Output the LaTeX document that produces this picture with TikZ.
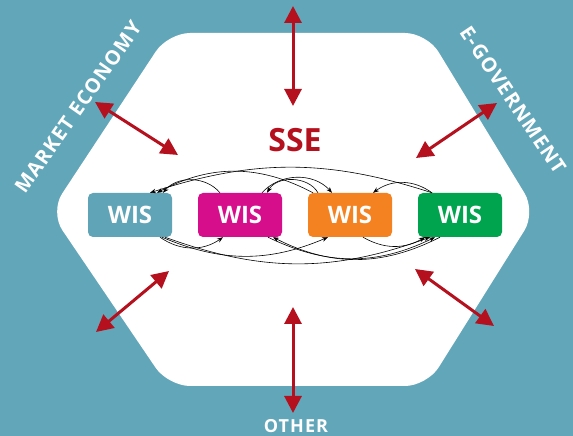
\documentclass[tikz,border=0pt]{standalone}
\usepackage{fontspec}
\setmainfont{Open Sans}
\newfontfamily\spacedfont[LetterSpace=6.0]{Open Sans}
\usepackage{tikz}
\usetikzlibrary{arrows.meta}
\usetikzlibrary{shapes,positioning,calc}
\definecolor{seateal}{RGB}{98,166,185}
\definecolor{wisteal}{RGB}{96,164,183}
\definecolor{wismagenta}{RGB}{214,14,140}
\definecolor{wisorange}{RGB}{245,130,32}
\definecolor{wisgreen}{RGB}{0,163,78}
\definecolor{ssered}{RGB}{180,16,30}
\tikzstyle{wisbox} = [rectangle, rounded corners=5pt, minimum width=84pt, minimum height=44pt, text=white, font=\fontsize{24}{24}\selectfont\bfseries, inner sep=0pt]
\tikzstyle{link} = [black, line width=0.6pt, -{Stealth[length=6pt,width=4.5pt]}]
\tikzstyle{relation} = [ssered, line width=3pt, {Triangle[length=17pt,width=17pt]}-{Triangle[length=17pt,width=17pt]}]
\tikzstyle{area} = [text=white, font=\spacedfont\fontsize{20}{20}\selectfont\bfseries, inner sep=0pt]

\begin{document}
\begin{tikzpicture}[x=1pt,y=1pt]
				\fill[seateal] (0,0) rectangle (573,436);
				\fill[white, rounded corners=22pt] (168,403) -- (427,403) -- (536,224) -- (427,50) -- (168,50) -- (50,224) -- cycle;
				
				\node[font=\fontsize{32}{32}\selectfont\bfseries, text=ssered, inner sep=0pt] (sse) at (295,296) {SSE};
				
				\node[wisbox, fill=wisteal] (t) at (130,221) {WIS};
				\node[wisbox, fill=wismagenta] (m) at (240,221) {WIS};
				\node[wisbox, fill=wisorange] (o) at (350,221) {WIS};
				\node[wisbox, fill=wisgreen] (g) at (460,221) {WIS};
				
				% links above the boxes
				\draw[link] ([xshift=-20pt]m.north) to[bend right=50] ([xshift=33pt]t.north);
				\draw[link] ([xshift=-37pt]o.north) to[bend right=28] ([xshift=27pt]t.north);
				\draw[link] ([xshift=-28pt]g.north) to[bend right=18] ([xshift=20pt]t.north);
				\draw[link] ([xshift=-32pt]o.north) to[bend right=60] ([xshift=27pt]m.north);
				\draw[link] ([xshift=22pt]m.north) to[bend left=48] ([xshift=-18pt]o.north);
				\draw[link] ([xshift=-28pt]g.north) to[bend right=36] ([xshift=23pt]o.north);
				
				% links below the boxes
				\draw[link] ([xshift=30pt]t.south) to[bend right=35] ([xshift=-17pt]m.south);
				\draw[link] ([xshift=32pt]t.south) to[bend right=23] ([xshift=-22pt]o.south);
				\draw[link] ([xshift=35pt]t.south) to[bend right=20] ([xshift=-30pt]g.south);
				\draw[link] ([xshift=28pt]m.south) to[bend right=26] ([xshift=-25pt]g.south);
				\draw[link] ([xshift=13pt]o.south) to[bend right=30] ([xshift=-35pt]g.south);
				\draw[link] ([xshift=-20pt]g.south) to[bend left=27] ([xshift=33pt]m.south);
				
				% relations with the outside
				\coordinate (topout) at (293,430);
				\coordinate (topin) at (293,330);
				\coordinate (botout) at (293,23);
				\coordinate (botin) at (293,129);
				\coordinate (tlout) at (95,334);
				\coordinate (tlin) at (178,281);
				\coordinate (trout) at (497,333);
				\coordinate (trin) at (416,278);
				\coordinate (blout) at (96,104);
				\coordinate (blin) at (169,165);
				\coordinate (brout) at (494,110);
				\coordinate (brin) at (415,167);
				\draw[relation] (topout) -- (topin);
				\draw[relation] (botin) -- (botout);
				\draw[relation] (tlout) -- (tlin);
				\draw[relation] (trout) -- (trin);
				\draw[relation] (blout) -- (blin);
				\draw[relation] (brout) -- (brin);
				
				\node[area, rotate=55] (market) at (78,329) {MARKET ECONOMY};
				\node[area, rotate=-56] (egov) at (513,336) {E-GOVERNMENT};
				\node[area, font=\spacedfont\fontsize{18}{18}\selectfont\bfseries] (other) at (296,10) {OTHER};
			\end{tikzpicture}
\end{document}
